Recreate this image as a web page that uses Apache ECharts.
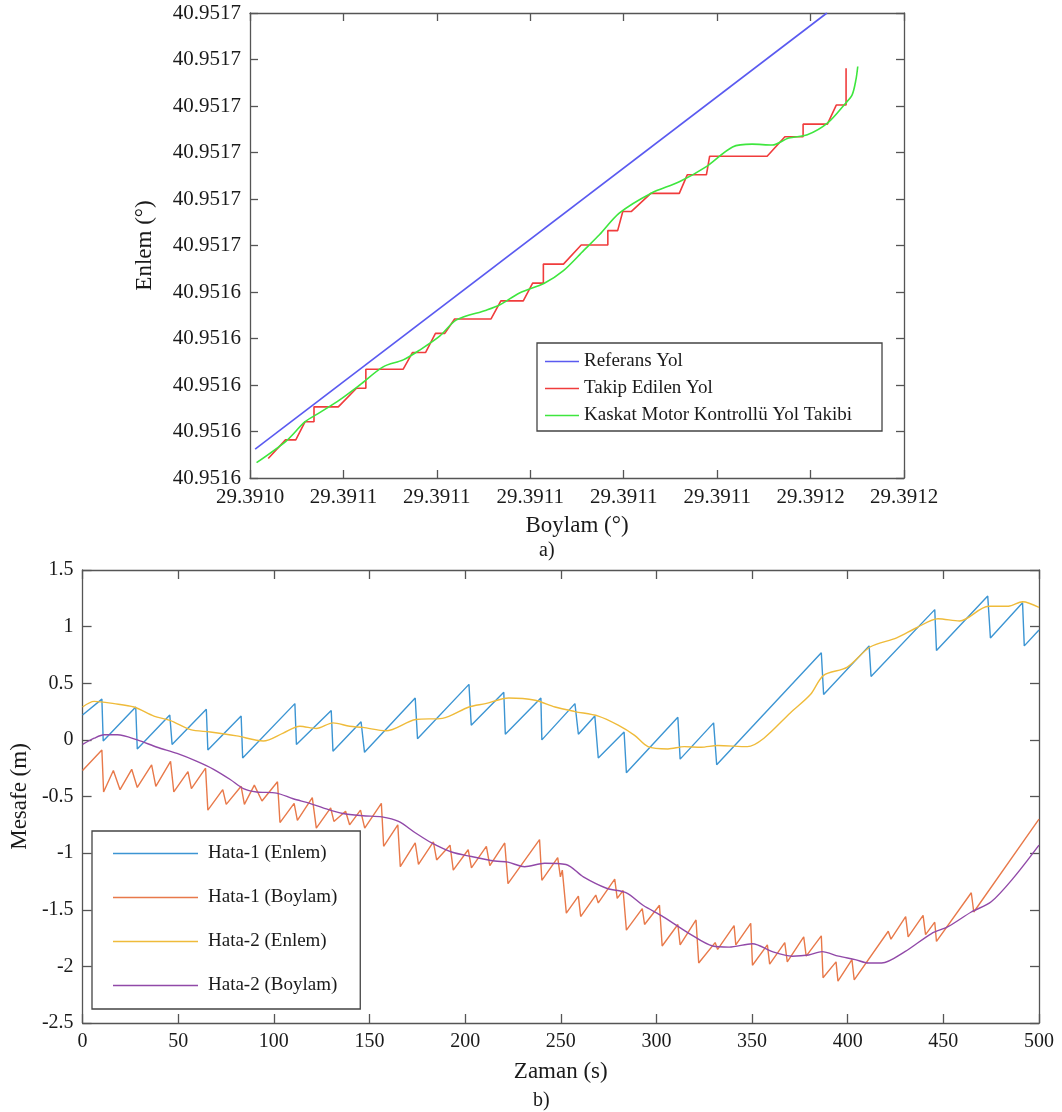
<!DOCTYPE html>
<html lang="tr">
<head>
<meta charset="UTF-8">
<title>Yol Takibi ve Konum Hataları</title>
<script src="https://cdn.jsdelivr.net/npm/echarts@6.0.0/dist/echarts.min.js"></script>
<style>
  body { margin: 0; background: #fff; }
  #chart { width: 1062px; height: 1112px; }
</style>
</head>
<body>
<div id="chart"></div>
<script>
// a) paths: [boylam, enlem] as offsets in 1e-5 degrees from the bases below
const LON_BASE = 29.39;
const LAT_BASE = 40.95;

const refPath = [[104.11, 160.62], [116.35, 170.0]];

const trackedPath = [
  [104.39, 160.42], [104.76, 160.82], [104.98, 160.82], [105.18, 161.21], [105.37, 161.21],
  [105.37, 161.53], [105.89, 161.53], [106.28, 161.93], [106.48, 161.93], [106.48, 162.34],
  [107.28, 162.34], [107.48, 162.70], [107.76, 162.70], [107.97, 163.11], [108.17, 163.11],
  [108.38, 163.42], [109.16, 163.42], [109.37, 163.81], [109.85, 163.81], [110.05, 164.19],
  [110.28, 164.19], [110.28, 164.60], [110.71, 164.60], [111.09, 165.01], [111.66, 165.01],
  [111.66, 165.32], [111.87, 165.32], [111.98, 165.73], [112.16, 165.73], [112.58, 166.12],
  [113.19, 166.12], [113.36, 166.52], [113.77, 166.52], [113.84, 166.92], [115.07, 166.92],
  [115.45, 167.34], [115.84, 167.34], [115.84, 167.61], [116.36, 167.61], [116.55, 168.02],
  [116.76, 168.02], [116.76, 168.81]
];

const cascadePath = [
  [104.14, 160.33], [104.78, 160.80], [105.18, 161.21], [105.50, 161.41], [105.92, 161.68],
  [106.35, 162.00], [106.85, 162.39], [107.28, 162.54], [107.63, 162.75], [108.06, 163.05],
  [108.42, 163.40], [109.06, 163.61], [109.34, 163.72], [109.77, 163.98], [110.30, 164.19],
  [110.71, 164.46], [111.15, 164.90], [111.48, 165.23], [111.91, 165.70], [112.58, 166.12],
  [113.19, 166.37], [113.76, 166.69], [114.33, 167.12], [114.75, 167.18], [115.18, 167.16],
  [115.53, 167.31], [115.93, 167.38], [116.36, 167.63], [116.75, 168.06], [116.89, 168.24],
  [116.97, 168.56], [117.01, 168.85]
];

// b) errors: [zaman (s), mesafe (m)]
const hata1Enlem = [
  [0, 0.22], [10.1, 0.36], [10.8, -0.01], [27.8, 0.29], [28.6, -0.08], [45.6, 0.22], [46.8, -0.04],
  [64.7, 0.27], [65.5, -0.09], [82.9, 0.21], [83.7, -0.16], [111, 0.32], [111.8, -0.04], [130, 0.26],
  [130.9, -0.10], [145.6, 0.16], [147.4, -0.11], [173.9, 0.37], [175.1, 0.01], [202, 0.49],
  [203.2, 0.13], [220.2, 0.42], [221, 0.05], [239.6, 0.37], [240.1, 0.0], [257.4, 0.32],
  [259.2, 0.05], [267.8, 0.21], [269.6, -0.16], [283.1, 0.07], [284.3, -0.29], [311.2, 0.20],
  [312.4, -0.17], [329.9, 0.15], [331.5, -0.22], [386.2, 0.77], [387.4, 0.40], [411.2, 0.83],
  [412.2, 0.56], [445.5, 1.15], [446.4, 0.79], [473.2, 1.27], [474.6, 0.90], [491.4, 1.21],
  [492.3, 0.83], [500, 0.97]
];

const hata1Boylam = [
  [0, -0.27], [10.1, -0.09], [11, -0.46], [16.1, -0.27], [19.6, -0.44], [25.7, -0.26], [28.6, -0.42],
  [36.1, -0.22], [38.3, -0.41], [46, -0.19], [47.7, -0.46], [55.1, -0.28], [56.9, -0.43], [64.3, -0.25],
  [65.5, -0.62], [73.3, -0.44], [75.1, -0.57], [82.9, -0.41], [84.6, -0.57], [89.8, -0.40], [93.8, -0.54],
  [101.9, -0.37], [103.2, -0.73], [110.6, -0.56], [112.3, -0.71], [120.1, -0.51], [122.2, -0.78],
  [129.7, -0.60], [131.4, -0.72], [137.5, -0.63], [139.6, -0.75], [145.3, -0.62], [147.5, -0.78],
  [156.2, -0.56], [157.4, -0.94], [164.8, -0.75], [166.1, -1.12], [173.9, -0.91], [175.6, -1.10],
  [183.4, -0.90], [185.1, -1.06], [192.1, -0.93], [193.8, -1.15], [201.6, -0.97], [203.3, -1.13],
  [211.1, -0.94], [212.9, -1.11], [220.7, -0.91], [222.4, -1.27], [238.9, -0.88], [240.1, -1.24],
  [248.4, -1.04], [249.8, -1.21], [250.8, -1.15], [252.9, -1.53], [259.2, -1.38], [260.4, -1.56],
  [268.3, -1.37], [269.6, -1.44], [278.2, -1.23], [279.5, -1.40], [282.6, -1.33], [284.3, -1.68],
  [292.6, -1.49], [293.8, -1.63], [301.6, -1.46], [303, -1.82], [311.2, -1.63], [312.4, -1.81],
  [320.7, -1.59], [322.1, -1.97], [330.7, -1.79], [332, -1.85], [340.6, -1.64], [341.5, -1.81],
  [349.3, -1.62], [350.2, -1.99], [358, -1.81], [359.2, -1.98], [367.1, -1.79], [368.4, -1.96],
  [377, -1.74], [378.3, -1.91], [386.2, -1.73], [387.1, -2.10], [393.9, -1.96], [394.9, -2.13],
  [402.2, -1.94], [403.4, -2.12], [421.2, -1.69], [422.6, -1.76], [430.3, -1.56], [431.6, -1.74],
  [439.4, -1.55], [440.7, -1.72], [445.5, -1.61], [446.4, -1.78], [464.6, -1.35], [465.9, -1.52],
  [500, -0.70]
];

const hata2Enlem = [
  [0, 0.29], [6.1, 0.34], [16.5, 0.32], [26.9, 0.29], [37.3, 0.21], [46, 0.17], [56.4, 0.09],
  [66.8, 0.07], [80.6, 0.035], [94.5, -0.01], [104.9, 0.06], [113.6, 0.12], [122.2, 0.10],
  [130.9, 0.15], [139.6, 0.12], [146.5, 0.11], [158.6, 0.08], [174.2, 0.18], [188.1, 0.19],
  [202, 0.29], [210.6, 0.32], [222.8, 0.37], [236.6, 0.35], [247, 0.29], [257.4, 0.25],
  [269.6, 0.21], [280, 0.13], [288.6, 0.04], [295.6, -0.06], [306, -0.08], [314.6, -0.06],
  [323.3, -0.065], [332, -0.05], [347.6, -0.06], [356.2, 0.015], [370.1, 0.24], [380.5, 0.40],
  [387.4, 0.57], [399.6, 0.64], [411.7, 0.82], [425.6, 0.90], [436, 0.99], [447.2, 1.07],
  [458.5, 1.05], [473.6, 1.18], [484, 1.18], [491.4, 1.22], [500, 1.17]
];

const hata2Boylam = [
  [0, -0.04], [6.1, 0.015], [11.3, 0.045], [18.2, 0.045], [28.6, 0.0], [39, -0.065], [49.4, -0.12],
  [59.8, -0.19], [68.5, -0.26], [77.2, -0.35], [84.1, -0.43], [91, -0.46], [101.4, -0.47],
  [110.1, -0.52], [118.8, -0.56], [125.7, -0.60], [136.1, -0.65], [146.5, -0.67], [156.5, -0.68],
  [165.2, -0.72], [173.9, -0.82], [182.5, -0.91], [192.9, -0.99], [203.3, -1.03], [215.5, -1.07],
  [222.4, -1.08], [231.1, -1.12], [241.5, -1.09], [252.7, -1.10], [261.8, -1.21], [273.9, -1.31],
  [284.3, -1.35], [293, -1.46], [303.4, -1.56], [317.2, -1.71], [329.4, -1.82], [338, -1.83],
  [350.2, -1.80], [360.6, -1.87], [371, -1.91], [379.6, -1.90], [386.6, -1.87], [395.2, -1.91],
  [403.9, -1.94], [410.8, -1.97], [417.7, -1.97], [429.9, -1.87], [443.8, -1.71], [452.4, -1.65],
  [464.6, -1.52], [475, -1.43], [487.1, -1.21], [500, -0.93]
];

const pathNames = ['Referans Yol', 'Takip Edilen Yol', 'Kaskat Motor Kontrollü Yol Takibi'];
const errorNames = ['Hata-1 (Enlem)', 'Hata-1 (Boylam)', 'Hata-2 (Enlem)', 'Hata-2 (Boylam)'];

const serif = "'Liberation Serif', 'Times New Roman', serif";
const frameColor = '#555';
const textColor = '#1a1a1a';

// offsets (1e-5 deg) -> labels with 4 decimals, like the original
function degLabel(base, v) {
  return (Math.round(base * 1e4 + v / 10) / 1e4).toFixed(4);
}

function axis(gridIndex, position, range, labels, tickLen, fontSize) {
  return {
    type: 'value',
    gridIndex: gridIndex,
    position: position,
    min: range[0], max: range[1], interval: range[2],
    axisLine: { show: true, onZero: false, lineStyle: { color: frameColor, width: 1.3 } },
    axisTick: { show: true, inside: true, length: tickLen, lineStyle: { color: frameColor, width: 1.3 } },
    splitLine: { show: false },
    axisLabel: labels ? Object.assign({ color: textColor, fontFamily: serif, fontSize: fontSize, margin: 9 }, labels) : { show: false }
  };
}

function line(name, data, color, xi, yi, smooth, width) {
  return {
    name: name, type: 'line', data: data,
    xAxisIndex: xi, yAxisIndex: yi,
    symbol: 'none', showSymbol: false,
    smooth: smooth ? 0.3 : false,
    color: color,
    lineStyle: { color: color, width: width },
    emphasis: { disabled: true }
  };
}

const chart = echarts.init(document.getElementById('chart'));

const nameStyle = { color: textColor, fontFamily: serif, fontSize: 23 };

const xTop = axis(0, 'bottom', [104, 118, 2], { formatter: v => degLabel(LON_BASE, v) }, 8, 21);
xTop.name = 'Boylam (°)'; xTop.nameLocation = 'middle'; xTop.nameGap = 36; xTop.nameTextStyle = nameStyle;
const yTop = axis(0, 'left', [160, 170, 1], { formatter: v => degLabel(LAT_BASE, v) }, 8, 21);
yTop.name = 'Enlem (°)'; yTop.nameLocation = 'middle'; yTop.nameGap = 94; yTop.nameTextStyle = nameStyle;

const xBot = axis(1, 'bottom', [0, 500, 50], {}, 9, 20);
xBot.name = 'Zaman (s)'; xBot.nameLocation = 'middle'; xBot.nameGap = 37; xBot.nameTextStyle = nameStyle;
const yBot = axis(1, 'left', [-2.5, 1.5, 0.5], {}, 9, 20);
yBot.name = 'Mesafe (m)'; yBot.nameLocation = 'middle'; yBot.nameGap = 48; yBot.nameTextStyle = nameStyle;

chart.setOption({
  animation: false,
  backgroundColor: '#fff',
  title: [
    { text: 'a)', left: 534, top: 536, textStyle: { fontFamily: serif, fontSize: 20, fontWeight: 'normal', color: textColor } },
    { text: 'b)', left: 528, top: 1086, textStyle: { fontFamily: serif, fontSize: 20, fontWeight: 'normal', color: textColor } }
  ],
  grid: [
    { left: 250, right: 158, top: 13, height: 465 },
    { left: 78, right: 23, top: 570, height: 453 }
  ],
  xAxis: [xTop, axis(0, 'top', [104, 118, 2], null, 8), xBot, axis(1, 'top', [0, 500, 50], null, 9)],
  yAxis: [yTop, axis(0, 'right', [160, 170, 1], null, 8), yBot, axis(1, 'right', [-2.5, 1.5, 0.5], null, 9)],
  legend: [
    {
      data: pathNames, orient: 'vertical', left: 537, top: 343,
      icon: 'rect', itemWidth: 34, itemHeight: 1.6, itemGap: 8,
      padding: [9, 30, 6, 8],
      borderColor: '#444', borderWidth: 1.3, backgroundColor: '#fff',
      selectedMode: false,
      textStyle: { fontFamily: serif, fontSize: 19, color: textColor }
    },
    {
      data: errorNames, orient: 'vertical', left: 92, top: 831,
      icon: 'rect', itemWidth: 85, itemHeight: 1.4, itemGap: 25,
      padding: [13, 23, 14, 21],
      borderColor: '#444', borderWidth: 1.3, backgroundColor: '#fff',
      selectedMode: false,
      textStyle: { fontFamily: serif, fontSize: 19, color: textColor, padding: [0, 0, 0, 5] }
    }
  ],
  series: [
    line(pathNames[0], refPath, '#5a5af0', 0, 0, false, 1.6),
    line(pathNames[1], trackedPath, '#f03c3c', 0, 0, false, 1.6),
    line(pathNames[2], cascadePath, '#3ee63e', 0, 0, true, 1.6),
    line(errorNames[0], hata1Enlem, '#3c95d3', 2, 2, false, 1.4),
    line(errorNames[1], hata1Boylam, '#e8794a', 2, 2, false, 1.4),
    line(errorNames[2], hata2Enlem, '#efbb3a', 2, 2, true, 1.4),
    line(errorNames[3], hata2Boylam, '#9149a8', 2, 2, true, 1.4)
  ]
});
</script>
</body>
</html>
